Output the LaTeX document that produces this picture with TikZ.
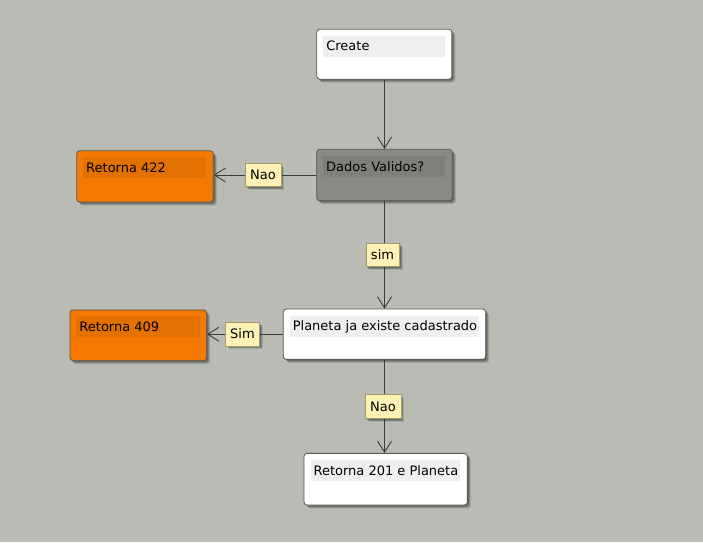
\documentclass[tikz,border=0pt]{standalone}
\usepackage{fontspec}
\setmainfont{DejaVu Sans}
\usetikzlibrary{arrows.meta,shadows}
\definecolor{bg}{RGB}{185,187,180}
\definecolor{edgecol}{RGB}{60,60,60}
\definecolor{boxline}{RGB}{88,88,88}
\definecolor{greyfill}{RGB}{136,138,133}
\definecolor{greyband}{RGB}{126,128,123}
\definecolor{orangefill}{RGB}{245,121,0}
\definecolor{orangeband}{RGB}{226,113,0}
\definecolor{whiteband}{RGB}{239,239,239}
\definecolor{lblfill}{RGB}{254,241,181}
\definecolor{lblline}{RGB}{165,155,105}
\newcommand\mkbox[7]{%
  \node[box, fill=#5, minimum width=#3, minimum height=#4] (#1) at #2 {};
  \node[band, fill=#6, minimum width=#3-13.5pt, anchor=north west] (#1band) at ([shift={(6.7pt,-6.7pt)}]#1.north west) {};
  \node[txt, anchor=west] (#1text) at ([xshift=3pt]#1band.west) {#7};
}
\begin{document}
\begin{tikzpicture}[x=1pt,y=-1pt,
  font=\fontsize{13}{15}\selectfont,
  softshadow/.style={
    drop shadow={shadow xshift=3.5pt, shadow yshift=-3.5pt, opacity=0.12, fill=black},
    drop shadow={shadow xshift=2.5pt, shadow yshift=-2.5pt, opacity=0.18, fill=black},
    drop shadow={shadow xshift=1.5pt, shadow yshift=-1.5pt, opacity=0.2, fill=black}},
  box/.style={draw=boxline, line width=0.8pt, rounded corners=3pt, inner sep=0pt, softshadow},
  band/.style={inner sep=0pt, minimum height=21pt},
  txt/.style={inner sep=0pt, text height=9.4pt, text depth=0pt},
  lbl/.style={draw=lblline, fill=lblfill, line width=0.6pt, inner xsep=5pt, inner ysep=7pt,
    text height=9.4pt, text depth=0pt, softshadow},
  arr/.style={draw=edgecol, line width=0.9pt, -{Straight Barb[length=11pt,width=14pt]}}]
\fill[bg] (0,0) rectangle (703,542);
\useasboundingbox (0,0) rectangle (703,542);

\mkbox{create}{(384.3,54.2)}{135pt}{50pt}{white}{whiteband}{Create}
\mkbox{dados}{(384.5,175)}{135.6pt}{51.4pt}{greyfill}{greyband}{Dados Validos?}
\mkbox{rA}{(145,176.4)}{136.6pt}{51.3pt}{orangefill}{orangeband}{Retorna 422}
\mkbox{planeta}{(384.5,334.2)}{202.4pt}{50.3pt}{white}{whiteband}{Planeta ja existe cadastrado}
\mkbox{rB}{(138.3,335.3)}{136.7pt}{50.7pt}{orangefill}{orangeband}{Retorna 409}
\mkbox{rC}{(385.7,479.2)}{163.3pt}{51.7pt}{white}{whiteband}{Retorna 201 e Planeta}

\draw[arr] (create.south -| dados.north) -- (dados.north);
\draw[arr] (dados.west) -- node[lbl, xshift=-2pt] (l1) {Nao} (rA.east |- dados.west);
\draw[arr] (dados.south) -- node[lbl, xshift=-2pt] (l2) {sim} (planeta.north);
\draw[arr] (planeta.west) -- node[lbl, xshift=-2.5pt] (l3) {Sim} (rB.east |- planeta.west);
\draw[arr] (planeta.south) -- node[lbl, xshift=-1.5pt] (l4) {Nao} (planeta.south |- rC.north);
\end{tikzpicture}
\end{document}
